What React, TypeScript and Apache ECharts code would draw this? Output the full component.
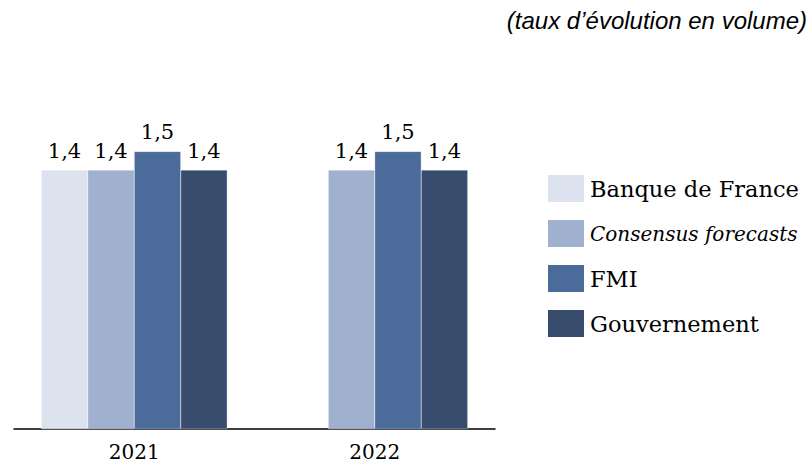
import React, { useEffect, useRef } from "react";
import * as echarts from "echarts";

const categories = ["2021", "2022"];
const seriesNames = ["Banque de France", "Consensus forecasts", "FMI", "Gouvernement"];
const banqueDeFrance = [1.4, null];
const consensus = [1.4, 1.4];
const fmi = [1.5, 1.5];
const gouvernement = [1.4, 1.4];
const colors = ["#dde3ee", "#9fb1ce", "#4b6b9a", "#384d6e"];
const subtitle = "(taux d\u2019\u00e9volution en volume)";

const serif = "'DejaVu Serif', 'Liberation Serif', serif";

export default function App() {
  const ref = useRef<HTMLDivElement>(null);
  useEffect(() => {
    if (!ref.current) return;
    const chart = echarts.init(ref.current, null, { renderer: "svg" });
    const values = [banqueDeFrance, consensus, fmi, gouvernement];
    chart.setOption({
      animation: false,
      color: colors,
      title: {
        text: subtitle,
        right: 5,
        top: 8,
        padding: 0,
        textStyle: {
          fontFamily: "'Liberation Sans', Arial, sans-serif",
          fontStyle: "italic",
          fontWeight: "normal",
          fontSize: 24,
          color: "#000",
        },
      },
      legend: {
        orient: "vertical",
        left: 546,
        top: 173,
        padding: 0,
        itemWidth: 38,
        itemHeight: 29,
        itemGap: 14,
        icon: "rect",
        data: seriesNames,
        formatter: (name: string) =>
          name === "Consensus forecasts" ? "{i|" + name + "}" : name,
        textStyle: {
          fontFamily: serif,
          fontSize: 22.5,
          lineHeight: 29,
          color: "#000",
          rich: {
            i: { fontFamily: serif, fontSize: 20, lineHeight: 29, fontStyle: "italic", color: "#000" },
          },
        },
      },
      grid: { left: 14, top: 59, width: 481, bottom: 36, containLabel: false },
      xAxis: {
        type: "category",
        data: categories,
        axisLine: { lineStyle: { color: "#000", width: 1.5 } },
        axisTick: { show: false },
        axisLabel: { fontFamily: serif, fontSize: 20, color: "#000", margin: 13 },
      },
      yAxis: {
        type: "value",
        min: 0,
        max: 2,
        show: false,
        splitLine: { show: false },
      },
      series: seriesNames.map((name, i) => ({
        name,
        type: "bar",
        data: values[i],
        barGap: "0%",
        barCategoryGap: "22.7%",
        itemStyle: { color: colors[i], borderColor: "#ffffff", borderWidth: 0.3 },
        label: {
          show: true,
          position: "top",
          distance: 9,
          fontFamily: serif,
          fontSize: 21,
          color: "#000",
          formatter: (p: any) => String(p.value).replace(".", ","),
        },
      })),
    });
    return () => chart.dispose();
  }, []);
  return (
    <div
      ref={ref}
      style={{ position: "fixed", left: 0, top: 0, width: 812, height: 465, background: "#fff" }}
    />
  );
}
